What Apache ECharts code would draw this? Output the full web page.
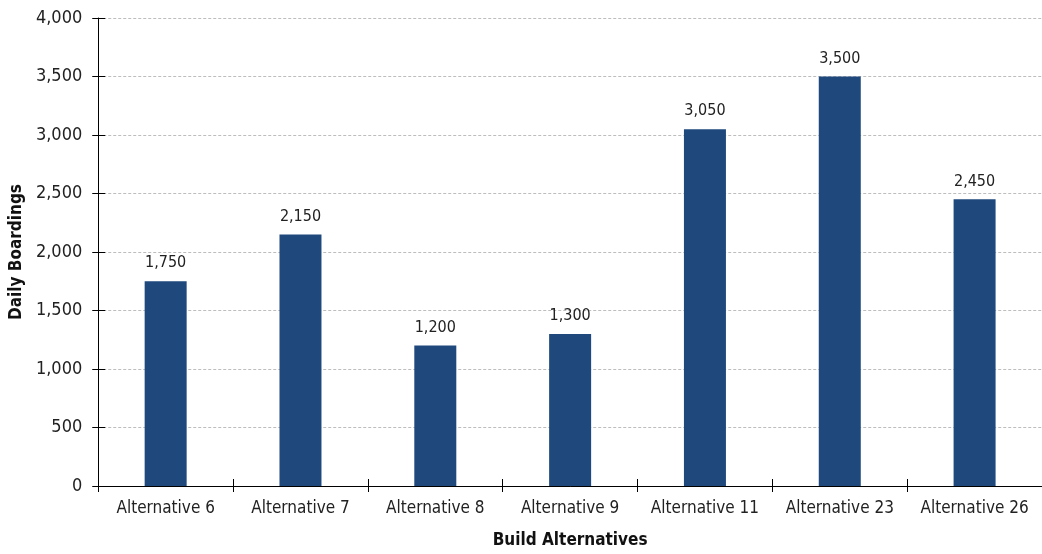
<!DOCTYPE html>
<html>
<head>
<meta charset="utf-8">
<script src="https://cdn.jsdelivr.net/npm/echarts@6/dist/echarts.min.js"></script>
<style>
html,body{margin:0;padding:0;background:#fff;}
#chart{width:1042px;height:554px;}
</style>
</head>
<body>
<div id="chart"></div>
<script>
const categories = ["Alternative 6","Alternative 7","Alternative 8","Alternative 9","Alternative 11","Alternative 23","Alternative 26"];
const boardings = [1750, 2150, 1200, 1300, 3050, 3500, 2450];
const yMin = 0, yMax = 4000, yStep = 500;

const FONT = '"DejaVu Sans Condensed", "Liberation Sans Narrow", "Liberation Sans", Arial, sans-serif';
const chart = echarts.init(document.getElementById('chart'), null, {renderer:'canvas'});
chart.setOption({
  animation:false,
  backgroundColor:'#fff',
  grid:{left:98, width:953, top:18, height:469, containLabel:false},
  xAxis:[{
    type:'category', data:categories, position:'bottom',
    name:'Build Alternatives', nameLocation:'middle', nameGap:46,
    nameTextStyle:{fontFamily:FONT, fontWeight:'bold', fontSize:17, color:'#111'},
    axisLine:{lineStyle:{color:'#000', width:1}},
    axisTick:{show:true, length:6, lineStyle:{color:'#000'}},
    axisLabel:{fontFamily:FONT, fontSize:17, color:'#222', margin:14, interval:0},
    splitLine:{show:false}
  },{
    type:'category', data:categories, position:'bottom', offset:0,
    axisLine:{show:false},
    axisTick:{show:true, inside:true, length:7, lineStyle:{color:'#000'}},
    axisLabel:{show:false}, splitLine:{show:false}
  }],
  yAxis:[{
    type:'value', min:yMin, max:yMax, interval:yStep, position:'left',
    name:'Daily Boardings', nameLocation:'middle', nameGap:72, nameRotate:90,
    nameTextStyle:{fontFamily:FONT, fontWeight:'bold', fontSize:17, color:'#111'},
    axisLine:{show:true, lineStyle:{color:'#000', width:1}},
    axisTick:{show:true, length:6, lineStyle:{color:'#000'}},
    axisLabel:{fontFamily:FONT, fontSize:18, color:'#222', margin:16,
      formatter:v=>v.toLocaleString('en-US')},
    splitLine:{show:true, lineStyle:{color:'#bdbdbd', type:[3,2], width:1}}
  },{
    type:'value', min:yMin, max:yMax, interval:yStep, position:'left', offset:0,
    axisLine:{show:false},
    axisTick:{show:true, inside:true, length:7, lineStyle:{color:'#000'}},
    axisLabel:{show:false}, splitLine:{show:false}
  }],
  series:[{
    type:'bar', data:boardings, xAxisIndex:0, yAxisIndex:0,
    barWidth:42,
    itemStyle:{color:'#1F497D'},
    label:{show:true, position:'top', distance:10, fontFamily:FONT, fontSize:16, color:'#222',
      formatter:p=>p.value.toLocaleString('en-US')}
  }]
});
</script>
</body>
</html>
